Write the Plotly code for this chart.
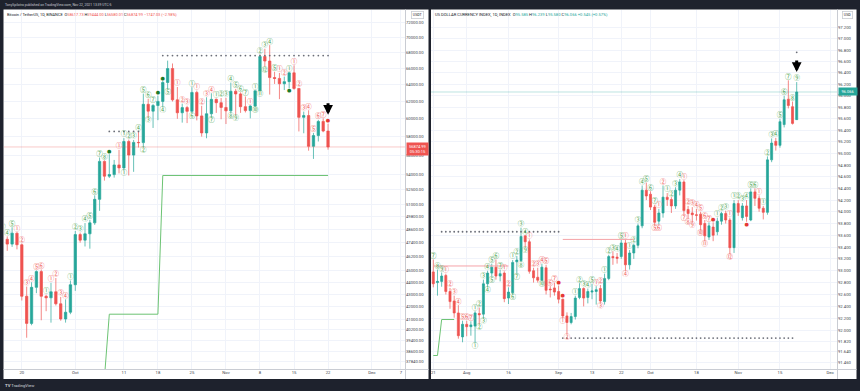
import math
import pandas as pd
import plotly.graph_objects as go

W, H = 860, 391
UP, DN = "#26a69a", "#ef5350"
GRID = "#f0f3fa"

# ---------------- Bitcoin / TetherUS, 1D, BINANCE ----------------
btc_dates = pd.date_range("2021-09-16", "2021-11-22", freq="D").strftime("%Y-%m-%d").tolist()
btc_open = [48114, 47737, 47300, 48293, 47241, 42844, 40694, 43574, 44896, 42840,
            42717, 43208, 42236, 41034, 41564, 43790, 48165, 47657, 48233, 49245,
            51494, 55340, 53805, 53967, 54968, 54660, 57471, 56005, 57368, 57347,
            61672, 60875, 61528, 62009, 64280, 66001, 62193, 60689, 61286, 60852,
            63078, 60328, 58413, 60575, 62253, 61859, 61300, 60911, 63219, 62896,
            61395, 60937, 61470, 63273, 67525, 66947, 64882, 64774, 64122, 64380,
            65466, 63557, 60161, 60368, 56942, 58119, 59697, 58617.73]
btc_high = [48486, 48000, 48843, 48372, 47358, 43638, 44000, 45000, 45080, 42970,
            43950, 44350, 42790, 42590, 44141, 48495, 48350, 49228, 49529, 51887,
            55750, 55450, 56100, 55490, 56561, 57839, 57680, 57637, 58532, 62933,
            62329, 61720, 62696, 64486, 67000, 66639, 63733, 61747, 61500, 63710,
            63293, 61496, 62499, 62980, 62359, 62405, 62437, 64270, 63500, 63086,
            62595, 61560, 63286, 67789, 68524, 69000, 65600, 65450, 65000, 65550,
            66401, 63617, 60823, 60977, 58417, 59880, 60055, 59444.00]
btc_low = [47014, 46700, 47050, 46830, 42500, 39600, 40550, 43096, 40936, 41646,
           40750, 42098, 40900, 40753, 41410, 43283, 47430, 47088, 46891, 49057,
           50382, 53357, 53618, 53661, 54093, 54416, 53879, 54253, 56818, 56850,
           60150, 58963, 59844, 61322, 63481, 62000, 60000, 59562, 59510, 60650,
           59817, 58000, 57820, 60174, 60673, 59945, 59405, 60624, 60382, 60677,
           60721, 60050, 61322, 63273, 66222, 62822, 64100, 62278, 63360, 63576,
           63400, 58574, 58373, 56474, 55600, 57469, 58487, 56580.01]
btc_close = [47737, 47299, 48293, 47241, 42844, 40694, 43574, 44896, 42840, 42717,
             43208, 42236, 41034, 41564, 43790, 48165, 47657, 48233, 49245, 51494,
             55340, 53805, 53967, 54968, 54660, 57471, 56005, 57368, 57347, 61672,
             60875, 61528, 62009, 64280, 66001, 62193, 60689, 61286, 60852, 63078,
             60328, 58413, 60575, 62253, 61859, 61300, 60911, 63219, 62896, 61395,
             60937, 61470, 63273, 67525, 66947, 64882, 64774, 64122, 64380, 65466,
             63557, 60161, 60368, 56942, 58119, 59697, 58622.02, 56874.99]
# bars just before the visible window (only used by the TD Sequential counts)
btc_prior_high = [46440, 46880, 47250, 48480]
btc_prior_low = [44750, 43370, 44750, 46700]
btc_prior_close = [46026, 44940, 47112, 48146]
btc_seed = dict(sell=2, buy=0, support=36700, resist=None, risk=None)

btc_ytick_vals = [72000, 70000, 68000, 66000, 64000, 62000, 60000, 58000, 56000, 54000,
                  52500, 51000, 49800, 48600, 47400, 46200, 45000, 44000, 43000, 42000,
                  41000, 40200, 39400, 38600, 37840]
btc_xtick_vals = ["2021-09-20", "2021-10-01", "2021-10-11", "2021-10-18", "2021-10-25",
                  "2021-11-01", "2021-11-08", "2021-11-15", "2021-11-22", "2021-12-01", "2021-12-07"]
btc_xtick_text = ["20", "Oct", "11", "18", "25", "Nov", "8", "15", "22", "Dec", "7"]
btc_yrange = [37319, 73756]
btc_xrange = ["2021-09-16 08:00", "2021-12-07 20:00"]

# ---------------- US Dollar Currency Index, 1D ----------------
dxy_dates = pd.bdate_range("2021-07-21", "2021-11-19").strftime("%Y-%m-%d").tolist()
dxy_open = [92.98, 92.80, 92.82, 92.92, 92.65, 92.49, 92.29, 91.89, 92.10, 92.06,
            92.07, 92.28, 92.27, 92.78, 92.96, 93.06, 92.91, 92.96, 92.54, 92.63,
            93.15, 93.17, 93.59, 93.49, 93.00, 92.89, 92.84, 93.05, 92.69, 92.71,
            92.65, 92.52, 92.24, 92.13, 92.23, 92.55, 92.70, 92.55, 92.64, 92.65,
            92.70, 92.48, 92.87, 93.24, 93.23, 93.24, 93.47, 93.10, 93.30, 93.43,
            93.76, 94.37, 94.30, 94.08, 93.84, 93.98, 94.25, 94.21, 94.10, 94.37,
            94.51, 94.04, 93.98, 93.95, 93.96, 93.80, 93.57, 93.74, 93.66, 93.84,
            93.97, 93.86, 93.39, 94.14, 93.90, 94.10, 93.86, 94.34, 94.23, 94.06,
            93.99, 94.89, 95.21, 95.14, 95.50, 95.94, 95.81, 95.585]
dxy_high = [93.19, 93.02, 92.97, 92.95, 92.71, 92.58, 92.42, 92.16, 92.16, 92.15,
            92.32, 92.38, 92.85, 93.00, 93.12, 93.19, 93.02, 92.99, 92.72, 93.18,
            93.25, 93.73, 93.60, 93.53, 93.05, 93.05, 93.12, 93.10, 92.74, 92.80,
            92.75, 92.53, 92.30, 92.29, 92.58, 92.79, 92.72, 92.70, 92.78, 92.74,
            92.76, 92.95, 93.27, 93.33, 93.30, 93.53, 93.53, 93.35, 93.46, 93.80,
            94.45, 94.50, 94.35, 94.12, 94.05, 94.45, 94.32, 94.25, 94.42, 94.56,
            94.54, 94.10, 94.08, 94.05, 94.00, 93.86, 93.82, 93.82, 93.90, 94.00,
            94.02, 93.90, 94.20, 94.20, 94.15, 94.20, 94.40, 94.40, 94.28, 94.10,
            94.95, 95.26, 95.27, 95.60, 96.00, 96.27, 95.90, 96.239]
dxy_low = [92.72, 92.58, 92.73, 92.60, 92.36, 92.21, 91.86, 91.80, 91.90, 91.91,
           91.79, 92.10, 92.20, 92.72, 92.90, 92.85, 92.82, 92.47, 92.44, 92.60,
           92.95, 93.15, 93.40, 92.95, 92.80, 92.80, 92.82, 92.60, 92.55, 92.58,
           92.45, 92.20, 91.94, 92.10, 92.18, 92.52, 92.40, 92.45, 92.52, 92.43,
           92.46, 92.43, 92.84, 93.10, 93.12, 93.20, 93.00, 93.02, 93.20, 93.38,
           93.72, 94.20, 94.03, 93.77, 93.78, 93.90, 94.10, 93.98, 94.05, 94.28,
           93.95, 93.88, 93.82, 93.85, 93.68, 93.50, 93.52, 93.50, 93.60, 93.78,
           93.80, 93.28, 93.30, 93.93, 93.85, 93.83, 93.84, 94.10, 94.00, 93.87,
           93.95, 94.85, 95.05, 95.10, 95.45, 95.78, 95.50, 95.580]
dxy_close = [92.78, 92.82, 92.91, 92.65, 92.48, 92.29, 91.91, 92.10, 92.06, 92.09,
             92.29, 92.26, 92.78, 92.96, 93.06, 92.91, 92.95, 92.53, 92.64, 93.14,
             93.18, 93.58, 93.49, 92.99, 92.88, 92.84, 93.06, 92.67, 92.68, 92.64,
             92.52, 92.24, 92.13, 92.23, 92.54, 92.70, 92.54, 92.65, 92.66, 92.68,
             92.49, 92.87, 93.24, 93.22, 93.21, 93.47, 93.10, 93.30, 93.43, 93.76,
             94.37, 94.27, 94.08, 93.82, 93.98, 94.25, 94.21, 94.10, 94.37, 94.51,
             94.02, 93.97, 93.95, 93.94, 93.78, 93.59, 93.76, 93.60, 93.84, 93.97,
             93.86, 93.39, 94.14, 93.99, 94.10, 93.92, 94.34, 94.23, 94.06, 93.99,
             94.89, 95.18, 95.14, 95.55, 95.93, 95.83, 95.52, 96.066]
dxy_prior_high = [92.84, 92.80, 92.76, 92.78, 92.88, 93.00]
dxy_prior_low = [92.18, 92.30, 92.33, 92.55, 92.60, 92.65]
dxy_prior_close = [92.75, 92.40, 92.65, 92.68, 92.74, 92.88]
dxy_seed = dict(sell=6, buy=0, support=91.58, resist=93.08, risk=None)

dxy_ytick_vals = [97.2, 97.0, 96.8, 96.6, 96.4, 96.2, 96.0, 95.8, 95.6, 95.4, 95.2, 95.0,
                  94.8, 94.6, 94.4, 94.2, 94.0, 93.8, 93.6, 93.4, 93.2, 93.0, 92.8, 92.6,
                  92.4, 92.2, 92.0, 91.82, 91.64, 91.46]
dxy_xtick_vals = [0, 8, 18, 30, 38, 45, 52, 63, 73, 83, 95]
dxy_xtick_text = ["21", "Aug", "16", "Sep", "13", "22", "Oct", "18", "Nov", "15", "Dec"]
dxy_yrange = [91.356, 97.506]
dxy_xrange = [-0.55, 96.65]


# ---------------- TD Sequential (setup / countdown / TDST / risk) ----------------
def td_sequential(h, l, c, ph, pl, pc, seed):
    Hh = list(ph) + list(h)
    Ll = list(pl) + list(l)
    Cc = list(pc) + list(c)
    off, n = len(pc), len(c)
    sell, buy = seed["sell"], seed["buy"]
    sell_cd = buy_cd = None
    support, resist, risk = seed["support"], seed["resist"], seed["risk"]
    risk_dir = None
    res = dict(above=[], below=[], dot_above=[], dot_below=[], support=[], resist=[], risk=[])
    for i in range(n):
        j = off + i
        if Cc[j] > Cc[j - 4]:
            sell, buy = sell + 1, 0
        elif Cc[j] < Cc[j - 4]:
            buy, sell = buy + 1, 0
        else:
            sell = buy = 0
        if 1 <= sell <= 9:
            perf = False
            if sell == 8:
                perf = Hh[j] >= max(Hh[j - 2], Hh[j - 1])
            elif sell == 9:
                perf = Hh[j] >= max(Hh[j - 3], Hh[j - 2])
            (res["dot_above"] if perf else res["above"]).append((i, sell, "s"))
        if 1 <= buy <= 9:
            perf = False
            if buy == 8:
                perf = Ll[j] <= min(Ll[j - 2], Ll[j - 1])
            elif buy == 9:
                perf = Ll[j] <= min(Ll[j - 3], Ll[j - 2])
            (res["dot_above"] if perf else res["above"]).append((i, buy, "b"))
        if sell == 9:
            rng = range(j - 8, j + 1)
            support = min(Ll[t] for t in rng)
            k = max(rng, key=lambda t: Hh[t])
            risk, risk_dir = Hh[k] + (Hh[k] - Ll[k]), "s"
            if sell_cd is None:
                sell_cd = 0
            buy_cd = None
        if buy == 9:
            rng = range(j - 8, j + 1)
            resist = max(Hh[t] for t in rng)
            k = min(rng, key=lambda t: Ll[t])
            risk, risk_dir = Ll[k] - (Hh[k] - Ll[k]), "b"
            if buy_cd is None:
                buy_cd = 0
            sell_cd = None
        if sell_cd is not None and Cc[j] >= Hh[j - 2]:
            sell_cd += 1
            if sell_cd == 13:
                res["dot_below"].append((i, 13, "s"))
                sell_cd = None
            else:
                res["below"].append((i, sell_cd, "s"))
        if buy_cd is not None and Cc[j] <= Ll[j - 2]:
            buy_cd += 1
            if buy_cd == 13:
                res["dot_below"].append((i, 13, "b"))
                buy_cd = None
            else:
                res["below"].append((i, buy_cd, "b"))
        if support is not None and Cc[j] < support:
            support = None
        if resist is not None and Cc[j] > resist:
            resist = None
        if risk is not None and ((risk_dir == "s" and Cc[j] > risk) or (risk_dir == "b" and Cc[j] < risk)):
            risk = None
        res["support"].append(support)
        res["resist"].append(resist)
        res["risk"].append(risk)
    return res


def circled(n):
    return chr(0x2460 + n - 1)


GREEN_TXT, RED_TXT = "#43a047", "#ef5350"
GREEN_DOT, RED_DOT = "#1b7a2a", "#e53935"
LABEL_FONT = "Noto Sans CJK JP, DejaVu Sans"

fig = go.Figure()


def add_chart(xs, o, h, l, c, ph, pl, pc, seed, xa, ya, xrange_):
    fig.add_trace(go.Candlestick(
        x=xs, open=o, high=h, low=l, close=c, xaxis=xa, yaxis=ya,
        increasing=dict(line=dict(color=UP, width=0.7), fillcolor=UP),
        decreasing=dict(line=dict(color=DN, width=0.7), fillcolor=DN),
        whiskerwidth=0, hoverinfo="skip", showlegend=False))
    td = td_sequential(h, l, c, ph, pl, pc, seed)
    # current price line
    fig.add_trace(go.Scatter(x=xrange_, y=[c[-1], c[-1]], mode="lines", xaxis=xa, yaxis=ya,
                             line=dict(color=(DN if c[-1] < o[-1] else UP), width=1),
                             opacity=0.3, hoverinfo="skip", showlegend=False))
    # TDST support (sell setups) and resistance (buy setups)
    fig.add_trace(go.Scatter(x=xs, y=td["support"], mode="lines", xaxis=xa, yaxis=ya,
                             line=dict(color="#6cc373", width=1), connectgaps=False,
                             hoverinfo="skip", showlegend=False))
    fig.add_trace(go.Scatter(x=xs, y=td["resist"], mode="lines", xaxis=xa, yaxis=ya,
                             line=dict(color="#f5a3a8", width=1), connectgaps=False,
                             hoverinfo="skip", showlegend=False))
    fig.add_trace(go.Scatter(x=xs, y=td["risk"], mode="markers", xaxis=xa, yaxis=ya,
                             marker=dict(color="#6b6e78", size=1.8), hoverinfo="skip",
                             showlegend=False))
    for key, base, pos in (("above", h, "top center"), ("below", l, "bottom center")):
        items = td[key]
        fig.add_trace(go.Scatter(
            x=[xs[i] for i, _, _ in items], y=[base[i] for i, _, _ in items],
            text=[circled(k) for _, k, _ in items], mode="text", textposition=pos,
            textfont=dict(family=LABEL_FONT, size=6.5,
                          color=[GREEN_TXT if s == "s" else RED_TXT for _, _, s in items]),
            xaxis=xa, yaxis=ya, hoverinfo="skip", showlegend=False))
    for key, base, pos in (("dot_above", h, "top center"), ("dot_below", l, "bottom center")):
        items = td[key]
        fig.add_trace(go.Scatter(
            x=[xs[i] for i, _, _ in items], y=[base[i] for i, _, _ in items],
            text=["●"] * len(items), mode="text", textposition=pos,
            textfont=dict(family="DejaVu Sans", size=5,
                          color=[GREEN_DOT if s == "s" else RED_DOT for _, _, s in items]),
            xaxis=xa, yaxis=ya, hoverinfo="skip", showlegend=False))


dxy_x = list(range(len(dxy_dates)))
add_chart(btc_dates, btc_open, btc_high, btc_low, btc_close, btc_prior_high, btc_prior_low,
          btc_prior_close, btc_seed, "x", "y", btc_xrange)
add_chart(dxy_x, dxy_open, dxy_high, dxy_low, dxy_close, dxy_prior_high, dxy_prior_low,
          dxy_prior_close, dxy_seed, "x2", "y2", dxy_xrange)


def px_x(v):
    return v / W


def px_y(v):
    return 1 - v / H


axis_common = dict(showgrid=True, gridcolor=GRID, gridwidth=1, zeroline=False, ticks="",
                   showline=False, fixedrange=True, tickfont=dict(size=4.2, color="#3c3f4a"))
ydom = [px_y(369), px_y(10)]

fig.update_layout(
    width=W, height=H, margin=dict(l=0, r=0, t=0, b=0, pad=0),
    paper_bgcolor="#1e222d", plot_bgcolor="#ffffff", showlegend=False,
    font=dict(family="Roboto, DejaVu Sans", size=5, color="#3c3f4a"),
    xaxis=dict(domain=[px_x(4), px_x(405)], type="date", range=btc_xrange,
               tickvals=btc_xtick_vals, ticktext=btc_xtick_text, anchor="y",
               rangeslider=dict(visible=False), **axis_common),
    yaxis=dict(domain=ydom, type="log", side="right", anchor="x",
               range=[math.log10(v) for v in btc_yrange],
               tickvals=btc_ytick_vals, ticktext=[f"{v:.2f}" for v in btc_ytick_vals],
               **axis_common),
    xaxis2=dict(domain=[px_x(431), px_x(837)], range=dxy_xrange,
                tickvals=dxy_xtick_vals, ticktext=dxy_xtick_text, anchor="y2",
                rangeslider=dict(visible=False), **axis_common),
    yaxis2=dict(domain=ydom, type="log", side="right", anchor="x2",
                range=[math.log10(v) for v in dxy_yrange],
                tickvals=dxy_ytick_vals, ticktext=[f"{v:.3f}" for v in dxy_ytick_vals],
                **axis_common),
)

SEP = "#c9ccd3"
shapes = [
    dict(type="rect", xref="paper", yref="paper", x0=px_x(3.5), x1=px_x(428.5),
         y0=px_y(379), y1=px_y(9.5), fillcolor="#ffffff", line=dict(width=0), layer="below"),
    dict(type="rect", xref="paper", yref="paper", x0=px_x(431), x1=px_x(856.5),
         y0=px_y(379), y1=px_y(9.5), fillcolor="#ffffff", line=dict(width=0), layer="below"),
    dict(type="line", xref="paper", yref="paper", x0=px_x(405.5), x1=px_x(405.5),
         y0=px_y(379), y1=px_y(9.5), line=dict(color=SEP, width=1)),
    dict(type="line", xref="paper", yref="paper", x0=px_x(3.5), x1=px_x(428.5),
         y0=px_y(369.5), y1=px_y(369.5), line=dict(color=SEP, width=1)),
    dict(type="line", xref="paper", yref="paper", x0=px_x(837.5), x1=px_x(837.5),
         y0=px_y(379), y1=px_y(9.5), line=dict(color=SEP, width=1)),
    dict(type="line", xref="paper", yref="paper", x0=px_x(431), x1=px_x(856.5),
         y0=px_y(369.5), y1=px_y(369.5), line=dict(color=SEP, width=1)),
]
fig.update_layout(shapes=shapes)

red_v = lambda s: f"<span style='color:{DN}'>{s}</span>"
grn_v = lambda s: f"<span style='color:{UP}'>{s}</span>"
btc_legend = ("Bitcoin / TetherUS, 1D, BINANCE  O" + red_v("58617.73") + " H" + red_v("59444.00")
              + " L" + red_v("56580.01") + " C" + red_v("56874.99") + " " + red_v("−1747.03 (−2.98%)"))
dxy_legend = ("US DOLLAR CURRENCY INDEX, 1D, INDEX  O" + grn_v("95.585") + " H" + grn_v("96.239")
              + " L" + grn_v("95.580") + " C" + grn_v("96.066") + " " + grn_v("+0.545 (+0.57%)"))

ann = [
    dict(text="TonySpilotro published on TradingView.com, Nov 22, 2021 13:39 UTC-5",
         x=px_x(3), y=px_y(5), xanchor="left", yanchor="middle",
         font=dict(size=3.4, color="#c8cbd3")),
    dict(text=btc_legend, x=px_x(5), y=px_y(15), xanchor="left", yanchor="middle",
         font=dict(size=3.9, color="#131722")),
    dict(text=dxy_legend, x=px_x(433), y=px_y(15), xanchor="left", yanchor="middle",
         font=dict(size=4.1, color="#131722")),
    dict(text="USDT", x=px_x(417.5), y=px_y(14.5), xanchor="center", yanchor="middle",
         font=dict(size=3.6, color="#131722"), bordercolor="#c9ccd3", borderwidth=0.8, borderpad=1),
    dict(text="USD", x=px_x(847.5), y=px_y(14.5), xanchor="center", yanchor="middle",
         font=dict(size=3.6, color="#131722"), bordercolor="#c9ccd3", borderwidth=0.8, borderpad=1),
    dict(text="<b>TV</b> TradingView", x=px_x(3), y=px_y(385), xanchor="left", yanchor="middle",
         font=dict(size=4.2, color="#d1d4dc")),
]
for a in ann:
    a.update(xref="paper", yref="paper", showarrow=False)

# current price tags on the price scales
ann.append(dict(text=f"{btc_close[-1]:.2f}<br>05:30:15", xref="paper", yref="y",
                x=px_x(405.5), y=math.log10(btc_close[-1]), xanchor="left", yanchor="top",
                yshift=5, showarrow=False, bgcolor=DN, borderpad=1, width=19,
                font=dict(size=4, color="#ffffff")))
ann.append(dict(text=f"{dxy_close[-1]:.3f}", xref="paper", yref="y2",
                x=px_x(837.5), y=math.log10(dxy_close[-1]), xanchor="left", yanchor="middle",
                showarrow=False, bgcolor=UP, borderpad=1, width=16,
                font=dict(size=4, color="#ffffff")))
# hand-drawn arrows over the last candles
ann.append(dict(x=btc_dates[-1], y=math.log10(btc_high[-1]), xref="x", yref="y",
                yshift=9, showarrow=True, ax=0, ay=-13, arrowhead=2, arrowsize=0.65,
                arrowwidth=3, arrowcolor="#000000", text=""))
ann.append(dict(x=dxy_x[-1], y=math.log10(dxy_high[-1]), xref="x2", yref="y2",
                yshift=10, showarrow=True, ax=0, ay=-13, arrowhead=2, arrowsize=0.65,
                arrowwidth=3, arrowcolor="#000000", text=""))
fig.update_layout(annotations=ann)

fig.write_html("out.html", config={"displayModeBar": False, "staticPlot": True},
               post_script="document.body.style.margin='0';")
